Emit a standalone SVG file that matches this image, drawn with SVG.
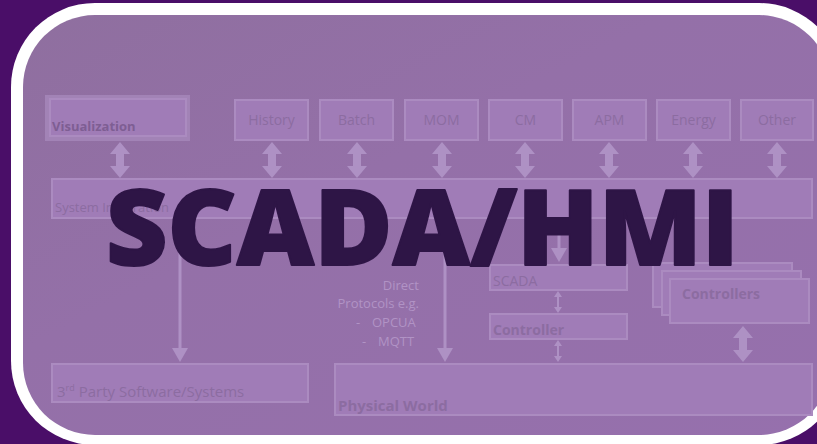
<svg xmlns="http://www.w3.org/2000/svg" width="817" height="444" viewBox="0 0 817 444">
<defs>
<style>
.box{fill:#a07cb7;stroke:#ab8bc0;stroke-width:2}
.lbl{font-family:"Open Sans","Liberation Sans",sans-serif;font-size:14px;fill:#8c6ca1}
.lblb{font-family:"Open Sans","Liberation Sans",sans-serif;font-size:14px;font-weight:700;fill:#8c6ca1}
.note{font-family:"Open Sans","Liberation Sans",sans-serif;font-size:13px;fill:#b193c5}
.arr{fill:#ae91c4}
.ln{stroke:#ae91c4;stroke-width:3;fill:none}
</style>
<linearGradient id="bg" x1="0" y1="0" x2="1" y2="1">
<stop offset="0" stop-color="#8f6f9f"/>
<stop offset="0.4" stop-color="#9470a8"/>
<stop offset="1" stop-color="#9670ad"/>
</linearGradient>
<path id="dbl" d="M0,0 L10,12 L4,12 L4,24 L10,24 L0,36 L-10,24 L-4,24 L-4,12 L-10,12 Z"/>
<path id="head" d="M0,0 L-8,-14 L8,-14 Z"/>
<path id="sdbl" d="M0,0 L4,6 L1,6 L1,16 L4,16 L0,22 L-4,16 L-1,16 L-1,6 L-4,6 Z"/>
</defs>
<rect width="817" height="444" fill="#4a0e68"/>
<rect x="11" y="3" width="832" height="442" rx="84" fill="#ffffff"/>
<rect x="23" y="15" width="808" height="420" rx="72" fill="url(#bg)"/>

<g id="connectors">
<use href="#dbl" class="arr" x="120" y="142"/>
<use href="#dbl" class="arr" x="272" y="142"/>
<use href="#dbl" class="arr" x="357" y="142"/>
<use href="#dbl" class="arr" x="442" y="142"/>
<use href="#dbl" class="arr" x="525" y="142"/>
<use href="#dbl" class="arr" x="609" y="142"/>
<use href="#dbl" class="arr" x="693" y="142"/>
<use href="#dbl" class="arr" x="777" y="142"/>
<line class="ln" x1="180" y1="219" x2="180" y2="350"/>
<use href="#head" class="arr" x="180" y="362"/>
<line class="ln" x1="445" y1="219" x2="445" y2="350"/>
<use href="#head" class="arr" x="445" y="362"/>
<line class="ln" x1="559" y1="219" x2="559" y2="250"/>
<use href="#head" class="arr" x="559" y="262"/>
<use href="#sdbl" class="arr" x="558" y="291"/>
<use href="#sdbl" class="arr" x="558" y="340"/>
<use href="#dbl" class="arr" x="743" y="326"/>
</g>

<g id="visualization">
<rect x="45" y="95" width="145" height="46" fill="#a283b6"/>
<rect x="50" y="99" width="136" height="37" class="box"/>
<text x="52" y="131" class="lblb" style="fill:#7e5e93;font-size:13px">Visualization</text>
</g>
<g id="history"><rect x="235" y="100" width="73" height="40" class="box"/><text x="271.5" y="125" class="lbl" text-anchor="middle">History</text></g>
<g id="batch"><rect x="320" y="100" width="73" height="40" class="box"/><text x="356.5" y="125" class="lbl" text-anchor="middle">Batch</text></g>
<g id="mom"><rect x="405" y="100" width="73" height="40" class="box"/><text x="441.5" y="125" class="lbl" text-anchor="middle">MOM</text></g>
<g id="cm"><rect x="489" y="100" width="73" height="40" class="box"/><text x="525.5" y="125" class="lbl" text-anchor="middle">CM</text></g>
<g id="apm"><rect x="573" y="100" width="73" height="40" class="box"/><text x="609.5" y="125" class="lbl" text-anchor="middle">APM</text></g>
<g id="energy"><rect x="657" y="100" width="73" height="40" class="box"/><text x="693.5" y="125" class="lbl" text-anchor="middle">Energy</text></g>
<g id="other"><rect x="741" y="100" width="72" height="40" class="box"/><text x="777" y="125" class="lbl" text-anchor="middle">Other</text></g>

<g id="system-integration"><rect x="52" y="179" width="760" height="39" class="box"/><text x="55" y="212" class="lbl" style="font-size:13px">System Integration</text></g>

<g id="direct-protocols">
<text class="note" text-anchor="end"><tspan x="419" y="290">Direct</tspan><tspan x="419" y="308">Protocols e.g.</tspan></text>
<text class="note"><tspan x="356" y="327">-</tspan><tspan x="372" y="327">OPCUA</tspan><tspan x="362" y="346">-</tspan><tspan x="378" y="346">MQTT</tspan></text>
</g>

<g id="scada"><rect x="490" y="265" width="137" height="25" class="box"/><text x="493" y="286" class="lbl">SCADA</text></g>
<g id="controller"><rect x="490" y="314" width="137" height="25" class="box"/><text x="493" y="335" class="lblb">Controller</text></g>

<g id="controllers">
<rect x="653" y="263" width="139" height="44" class="box"/>
<rect x="662" y="271" width="139" height="44" class="box"/>
<rect x="670" y="279" width="139" height="44" class="box"/>
<text x="682" y="299" class="lblb">Controllers</text>
</g>

<g id="third-party"><rect x="52" y="364" width="256" height="38" class="box"/><text x="57" y="397" class="lbl" style="font-size:15px">3<tspan dy="-6" style="font-size:9px">rd</tspan><tspan dy="6"> Party Software/Systems</tspan></text></g>
<g id="physical-world"><rect x="335" y="364" width="477" height="51" class="box"/><text x="338" y="411" class="lblb" style="font-size:15px">Physical World</text></g>

<g id="title">
<text x="106" y="265" textLength="633" lengthAdjust="spacingAndGlyphs" style="font-family:'Open Sans','Liberation Sans',sans-serif;font-size:105px;font-weight:800;fill:#2e1546;stroke:#2e1546;stroke-width:2;stroke-linejoin:round">SCADA/HMI</text>
</g>
</svg>
